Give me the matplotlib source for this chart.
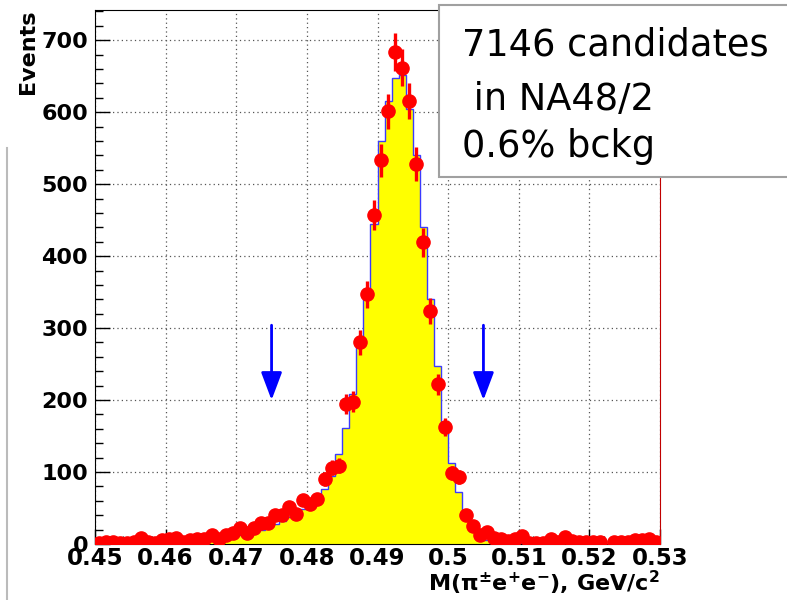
import numpy as np
import matplotlib
matplotlib.use('Agg')
import matplotlib.pyplot as plt
from matplotlib.patches import Rectangle
from matplotlib.lines import Line2D
from matplotlib.ticker import MultipleLocator

# binning of the mass axis
x_min, x_max, n_bins = 0.45, 0.53, 80

# data points, bin by bin from 0.4505 to 0.5295
data_counts = [2, 3, 3, 1, 2, 3, 9, 3, 1, 6,
               7, 8, 3, 6, 7, 7, 13, 7, 12, 15,
               22, 15, 22, 29, 29, 40, 40, 51, 42, 61,
               56, 62, 90, 106, 109, 194, 198, 280, 347, 457,
               533, 601, 684, 662, 616, 528, 419, 324, 222, 163,
               99, 93, 40, 25, 12, 17, 9, 7, 4, 7,
               11, 2, 2, 2, 7, 3, 10, 4, 3, 3,
               3, 3, 0, 3, 3, 3, 5, 5, 7, 3]

# simulation (yellow histogram)
mc_counts = [0, 0, 0, 0, 0, 0, 1, 1, 1, 1,
             1, 2, 2, 2, 3, 4, 5, 6, 8, 10,
             12, 14, 16, 19, 23, 28, 32, 37, 43, 48,
             52, 60, 76, 95, 125, 161, 208, 285, 355, 445,
             560, 615, 647, 652, 605, 540, 441, 340, 248, 165,
             112, 72, 35, 18, 9, 5, 3, 2, 2, 1,
             1, 1, 1, 1, 1, 0, 0, 0, 0, 0,
             0, 0, 0, 0, 0, 0, 0, 0, 0, 0]

cut_positions = [0.475, 0.505]
cut_top, cut_tip = 304, 200

x_ticks = [0.45, 0.46, 0.47, 0.48, 0.49, 0.50, 0.51, 0.52, 0.53]
x_tick_labels = ['0.45', '0.46', '0.47', '0.48', '0.49', '0.5', '0.51', '0.52', '0.53']
y_ticks = [0, 100, 200, 300, 400, 500, 600, 700]
box_lines = ['7146 candidates', ' in NA48/2', '0.6% bckg']

plt.rcParams['font.family'] = ['DejaVu Sans']
plt.rcParams['mathtext.fontset'] = 'dejavusans'
plt.rcParams['mathtext.default'] = 'bf'

W, H = 787, 600
fig = plt.figure(figsize=(W / 100, H / 100), dpi=100)
ax = fig.add_axes([95 / W, 1 - 544 / H, (660 - 95) / W, (544 - 10) / H])

edges = np.linspace(x_min, x_max, n_bins + 1)
centers = (edges[:-1] + edges[1:]) / 2
data = np.array(data_counts, dtype=float)
mc = np.array(mc_counts, dtype=float)

ax.stairs(mc, edges, fill=True, color='#ffff00', zorder=2)
ax.stairs(mc, edges, color='#3a3aff', lw=1.0, zorder=2.1)

has = data > 0
ax.errorbar(centers[has], data[has], yerr=np.sqrt(data[has]), fmt='o',
            color='#ff0000', ms=9.5, elinewidth=2.4, capsize=0, zorder=3)

for cx in cut_positions:
    ax.annotate('', xy=(cx, cut_tip), xytext=(cx, cut_top),
                arrowprops=dict(arrowstyle='-|>,head_length=0.85,head_width=0.32',
                                color='#0000ff', lw=2, mutation_scale=20,
                                shrinkA=0, shrinkB=0), zorder=4)

ax.set_xlim(x_min, x_max)
ax.set_ylim(0, 742)
ax.set_xticks(x_ticks)
ax.set_xticklabels(x_tick_labels, fontweight='bold', fontsize=16.5)
ax.set_yticks(y_ticks)
ax.set_yticklabels([str(v) for v in y_ticks], fontweight='bold', fontsize=16)
ax.xaxis.set_minor_locator(MultipleLocator(0.002))
ax.yaxis.set_minor_locator(MultipleLocator(20))
ax.tick_params(which='major', direction='in', length=11, width=1, top=False, right=False)
ax.tick_params(axis='x', which='major', pad=2)
ax.tick_params(axis='y', which='major', pad=5)
ax.tick_params(which='minor', direction='in', length=6, width=1, top=False, right=False)

ax.set_axisbelow(True)
ax.grid(True, which='major', ls=(0, (1, 2.5)), color='#555555', lw=0.9)

ax.spines['right'].set_color('#c00000')

ax.set_ylabel('Events', loc='top', fontsize=16, fontweight='bold')
ax.yaxis.set_label_coords(-0.1, 1.0)
ax.set_xlabel('M(π$^{\\pm}$e$^{+}$e$^{-}$), GeV/c$^{2}$', loc='right',
              fontsize=16, fontweight='bold')
ax.xaxis.set_label_coords(1.0, -0.047)

# text box in the upper right corner
fig.add_artist(Rectangle((439 / W, 1 - 177 / H), 0.6, 172 / H, transform=fig.transFigure,
                         facecolor='white', edgecolor='#a0a0a0', lw=1.5, zorder=5))
for line, base in zip(box_lines, [55, 110, 157]):
    fig.text(462 / W, 1 - base / H, line, fontsize=26.5, va='baseline', zorder=6)

# stray slide line on the left
fig.add_artist(Line2D([7 / W, 7 / W], [0, 1 - 148 / H], transform=fig.transFigure,
                      color='#bbbbbb', lw=1.5))

fig.savefig('out.png', dpi=100)
